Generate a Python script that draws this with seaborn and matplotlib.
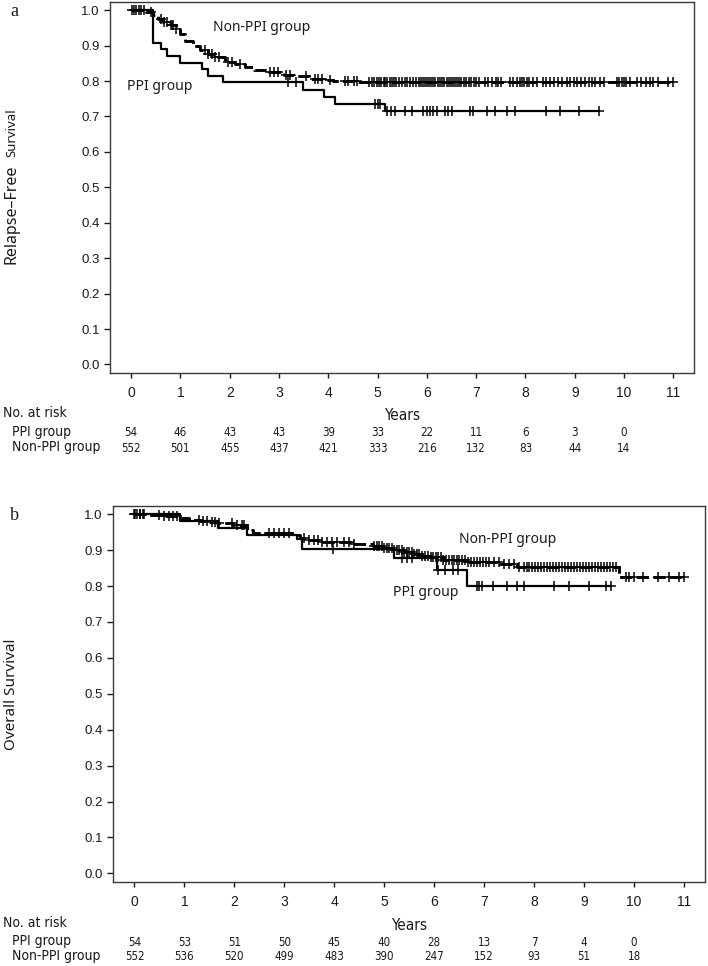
import numpy as np
import pandas as pd
import matplotlib
matplotlib.use("Agg")
import matplotlib.pyplot as plt
import matplotlib.transforms as mtrans
import matplotlib.font_manager as fm
import seaborn as sns

# ─── Data ────────────────────────────────────────────────────────────────────
X_TICKS = list(range(12))
RISK_YEARS = list(range(11))

# panel a: relapse-free survival (step change points)
rfs_ppi_t = [0, 0.45, 0.6, 0.72, 1.0, 1.43, 1.56, 1.86, 3.49, 3.91, 4.14, 5.15]
rfs_ppi_s = [1.0, 0.907, 0.889, 0.87, 0.852, 0.833, 0.815, 0.796, 0.776, 0.756, 0.736, 0.714]
rfs_ppi_end = 9.5
rfs_ppi_cens = [3.18, 3.35, 4.95, 5.0, 5.05, 5.2, 5.27, 5.35, 5.55, 5.7, 5.92, 6.0, 6.07,
                6.13, 6.2, 6.37, 6.43, 6.51, 6.88, 6.94, 7.22, 7.38, 7.63, 7.79, 8.42,
                8.7, 9.09, 9.5]

rfs_non_t = [0, 0.3, 0.45, 0.55, 0.65, 0.8, 0.9, 1.0, 1.1, 1.25, 1.4, 1.55, 1.7, 1.9,
             2.1, 2.3, 2.5, 2.8, 3.1, 3.3, 3.6, 3.9, 4.1, 4.6]
rfs_non_s = [1.0, 0.995, 0.986, 0.975, 0.967, 0.957, 0.948, 0.932, 0.912, 0.9, 0.888,
             0.877, 0.867, 0.855, 0.847, 0.839, 0.831, 0.826, 0.818, 0.813, 0.807,
             0.803, 0.8, 0.797]
rfs_non_end = 11.0
rfs_non_cens = [0.02, 0.06, 0.1, 0.15, 0.2, 0.25, 0.4, 0.6, 0.66, 0.72, 0.8, 0.85, 0.9,
                1.5, 1.56, 1.63, 1.7, 1.78, 1.97, 2.05, 2.2, 2.82, 2.9, 2.98, 3.15, 3.22,
                3.55, 3.72, 3.8, 3.88, 4.04, 4.34, 4.4, 4.52, 4.58, 4.82, 4.88, 4.93,
                4.98, 5.02, 5.07, 5.12, 5.16, 5.2, 5.25, 5.3, 5.34, 5.38, 5.43, 5.5,
                5.55, 5.6, 5.66, 5.72, 5.78, 5.83, 5.88, 5.92, 5.96, 6.0, 6.04, 6.09,
                6.13, 6.17, 6.22, 6.26, 6.3, 6.35, 6.4, 6.44, 6.48, 6.53, 6.57, 6.62,
                6.66, 6.7, 6.75, 6.8, 6.85, 6.9, 6.95, 7.0, 7.05, 7.18, 7.24, 7.32, 7.4,
                7.45, 7.5, 7.69, 7.75, 7.83, 7.89, 7.94, 7.98, 8.03, 8.08, 8.15, 8.24,
                8.36, 8.42, 8.5, 8.58, 8.66, 8.74, 8.84, 8.9, 8.98, 9.05, 9.12, 9.2,
                9.28, 9.35, 9.42, 9.51, 9.6, 9.86, 9.9, 9.95, 10.0, 10.05, 10.12,
                10.26, 10.35, 10.45, 10.52, 10.59, 10.69, 10.9, 11.0]

rfs_risk_ppi = [54, 46, 43, 43, 39, 33, 22, 11, 6, 3, 0]
rfs_risk_non = [552, 501, 455, 437, 421, 333, 216, 132, 83, 44, 14]

# panel b: overall survival
os_ppi_t = [0, 0.91, 1.67, 2.25, 3.25, 3.36, 5.2, 6.06, 6.66]
os_ppi_s = [1.0, 0.981, 0.962, 0.942, 0.93, 0.903, 0.877, 0.845, 0.80]
os_ppi_end = 9.53
os_ppi_cens = [0.02, 0.12, 0.2, 3.98, 5.36, 5.46, 5.56, 6.08, 6.22, 6.38, 6.48, 6.86,
               6.9, 6.96, 7.18, 7.46, 7.66, 7.8, 8.4, 8.69, 9.09, 9.43, 9.53]

os_non_t = [0, 0.3, 0.57, 0.91, 1.1, 1.31, 1.5, 1.65, 1.98, 2.25, 2.3, 2.38, 3.15, 3.31,
            3.5, 3.71, 4.31, 4.78, 5.0, 5.18, 5.4, 5.58, 5.75, 5.92, 6.18, 6.66, 7.32,
            7.66, 9.69]
os_non_s = [1.0, 0.998, 0.995, 0.99, 0.985, 0.981, 0.978, 0.975, 0.969, 0.961, 0.955,
            0.947, 0.942, 0.933, 0.927, 0.922, 0.918, 0.913, 0.907, 0.9, 0.895, 0.89,
            0.885, 0.88, 0.872, 0.866, 0.861, 0.853, 0.825]
os_non_end = 10.99
os_non_cens = [0.0, 0.05, 0.12, 0.17, 0.5, 0.6, 0.7, 0.78, 0.85, 1.3, 1.38, 1.45, 1.55,
               1.62, 1.7, 1.95, 2.05, 2.15, 2.2, 2.7, 2.8, 2.9, 3.0, 3.1, 3.4, 3.5, 3.6,
               3.68, 3.75, 3.85, 3.95, 4.05, 4.2, 4.3, 4.4, 4.8, 4.85, 4.9, 4.95, 5.0,
               5.05, 5.1, 5.15, 5.2, 5.25, 5.3, 5.35, 5.4, 5.45, 5.5, 5.55, 5.6, 5.65,
               5.7, 5.76, 5.82, 5.88, 5.93, 5.98, 6.03, 6.08, 6.13, 6.18, 6.24, 6.3,
               6.35, 6.4, 6.45, 6.5, 6.56, 6.62, 6.68, 6.74, 6.8, 6.86, 6.92, 6.98,
               7.04, 7.1, 7.2, 7.3, 7.4, 7.5, 7.6, 7.7, 7.8, 7.85, 7.9, 7.96, 8.02,
               8.08, 8.14, 8.2, 8.26, 8.32, 8.38, 8.44, 8.5, 8.56, 8.62, 8.68, 8.74,
               8.8, 8.86, 8.92, 8.98, 9.04, 9.1, 9.16, 9.22, 9.28, 9.34, 9.4, 9.46,
               9.52, 9.58, 9.64, 9.83, 9.9, 10.0, 10.17, 10.47, 10.7, 10.9, 10.99]

os_risk_ppi = [54, 53, 51, 50, 45, 40, 28, 13, 7, 4, 0]
os_risk_non = [552, 536, 520, 499, 483, 390, 247, 152, 93, 51, 18]

# ─── Style ───────────────────────────────────────────────────────────────────
sns.set_style("ticks")
W, H = 708, 966
INK = "#1a1a1a"
plt.rcParams.update({
    "font.family": ["Liberation Sans", "DejaVu Sans"],
    "axes.edgecolor": "#3a3a3a",
    "axes.linewidth": 1.0,
    "xtick.color": INK,
    "ytick.color": INK,
})

names = {f.name for f in fm.fontManager.ttflist}
if "Liberation Sans Narrow" in names:
    NARROW = dict(family="Liberation Sans Narrow")
else:
    NARROW = dict(family="DejaVu Sans", stretch="condensed")
LABEL_FONT = "Noto Sans" if "Noto Sans" in names else "DejaVu Sans"


def step_frame(t, s, end):
    return pd.DataFrame({"t": list(t) + [end], "s": list(s) + [s[-1]]})


def surv_at(t, s, times):
    idx = np.searchsorted(np.asarray(t), np.asarray(times), side="right") - 1
    return np.asarray(s)[idx]


def draw_panel(ax, ppi, non, ylabel_parts, tag, tag_y, notes, risk_ppi, risk_non, row_y):
    (pt, ps, pe, pc), (nt, ns, ne, nc) = ppi, non
    sns.lineplot(data=step_frame(pt, ps, pe), x="t", y="s", ax=ax, color="black",
                 drawstyle="steps-post", linewidth=1.6, estimator=None, sort=False)
    sns.lineplot(data=step_frame(nt, ns, ne), x="t", y="s", ax=ax, color="black",
                 drawstyle="steps-post", linewidth=2.1, linestyle=(0, (4.2, 1.5)),
                 estimator=None, sort=False)
    sns.scatterplot(x=pc, y=surv_at(pt, ps, pc), ax=ax, marker="+", s=60,
                    color="black", linewidth=1.1)
    sns.scatterplot(x=nc, y=surv_at(nt, ns, nc), ax=ax, marker="+", s=60,
                    color="black", linewidth=1.1)

    ax.set_xlim(-0.43, 11.42)
    ax.set_ylim(-0.024, 1.023)
    ax.set_xticks(X_TICKS)
    ax.set_yticks(np.round(np.arange(0, 1.01, 0.1), 1))
    ax.set_yticklabels([f"{v:.1f}" for v in np.arange(0, 1.01, 0.1)])
    ax.set_xlabel("")
    ax.set_ylabel("")
    ax.tick_params(axis="y", direction="out", length=4.3, width=1, labelsize=9.5, pad=3)
    ax.tick_params(axis="x", direction="out", length=3.3, width=1, labelsize=10, pad=6)
    for sp in ax.spines.values():
        sp.set_visible(True)

    for x, y, txt in notes:
        ax.text(x, y, txt, family=LABEL_FONT, fontsize=10, color=INK, va="center")

    fig = ax.figure
    fig.text(10 / W, 1 - tag_y / H, tag, family="Liberation Serif", fontsize=13,
             va="center", ha="left", color=INK)
    for (txt, yc, fs) in ylabel_parts:
        fig.text(12 / W, 1 - yc / H, txt, rotation=90, family=LABEL_FONT, fontsize=fs,
                 ha="center", va="center", color=INK)

    # risk table
    tr = mtrans.blended_transform_factory(ax.transData, fig.transFigure)
    y_head, y_ppi, y_non = row_y
    fig.text(3 / W, 1 - y_head / H, "No. at risk", fontsize=10, va="center", color=INK, **NARROW)
    fig.text(12 / W, 1 - y_ppi / H, "PPI group", fontsize=10, va="center", color=INK, **NARROW)
    fig.text(12 / W, 1 - y_non / H, "Non-PPI group", fontsize=10, va="center", color=INK, **NARROW)
    ax.text(5.5, 1 - (y_head + 2) / H, "Years", transform=tr, fontsize=11, ha="center",
            va="center", color=INK, **NARROW)
    for yr, a, b in zip(RISK_YEARS, risk_ppi, risk_non):
        ax.text(yr, 1 - (y_ppi + 1) / H, str(a), transform=tr, fontsize=8.3, ha="center",
                va="center", color=INK, **NARROW)
        ax.text(yr, 1 - (y_non + 1) / H, str(b), transform=tr, fontsize=8.3, ha="center",
                va="center", color=INK, **NARROW)


fig = plt.figure(figsize=(W / 100, H / 100), dpi=100)
fig.patch.set_facecolor("white")
ax_a = fig.add_axes([110 / W, 1 - 373 / H, 584 / W, 371 / H])
ax_b = fig.add_axes([113 / W, 1 - 882 / H, 592 / W, 376 / H])

draw_panel(ax_a,
           (rfs_ppi_t, rfs_ppi_s, rfs_ppi_end, rfs_ppi_cens),
           (rfs_non_t, rfs_non_s, rfs_non_end, rfs_non_cens),
           [("Relapse\u2013Free", 214, 11.5), ("Survival", 133, 9.5)],
           "a", 12,
           [(1.66, 0.952, "Non-PPI group"), (-0.08, 0.785, "PPI group")],
           rfs_risk_ppi, rfs_risk_non, (413, 432, 447))

draw_panel(ax_b,
           (os_ppi_t, os_ppi_s, os_ppi_end, os_ppi_cens),
           (os_non_t, os_non_s, os_non_end, os_non_cens),
           [("Overall Survival", 694, 11)],
           "b", 515,
           [(6.5, 0.931, "Non-PPI group"), (5.18, 0.781, "PPI group")],
           os_risk_ppi, os_risk_non, (923, 941, 956))

fig.savefig("out.png", dpi=100, facecolor="white")
